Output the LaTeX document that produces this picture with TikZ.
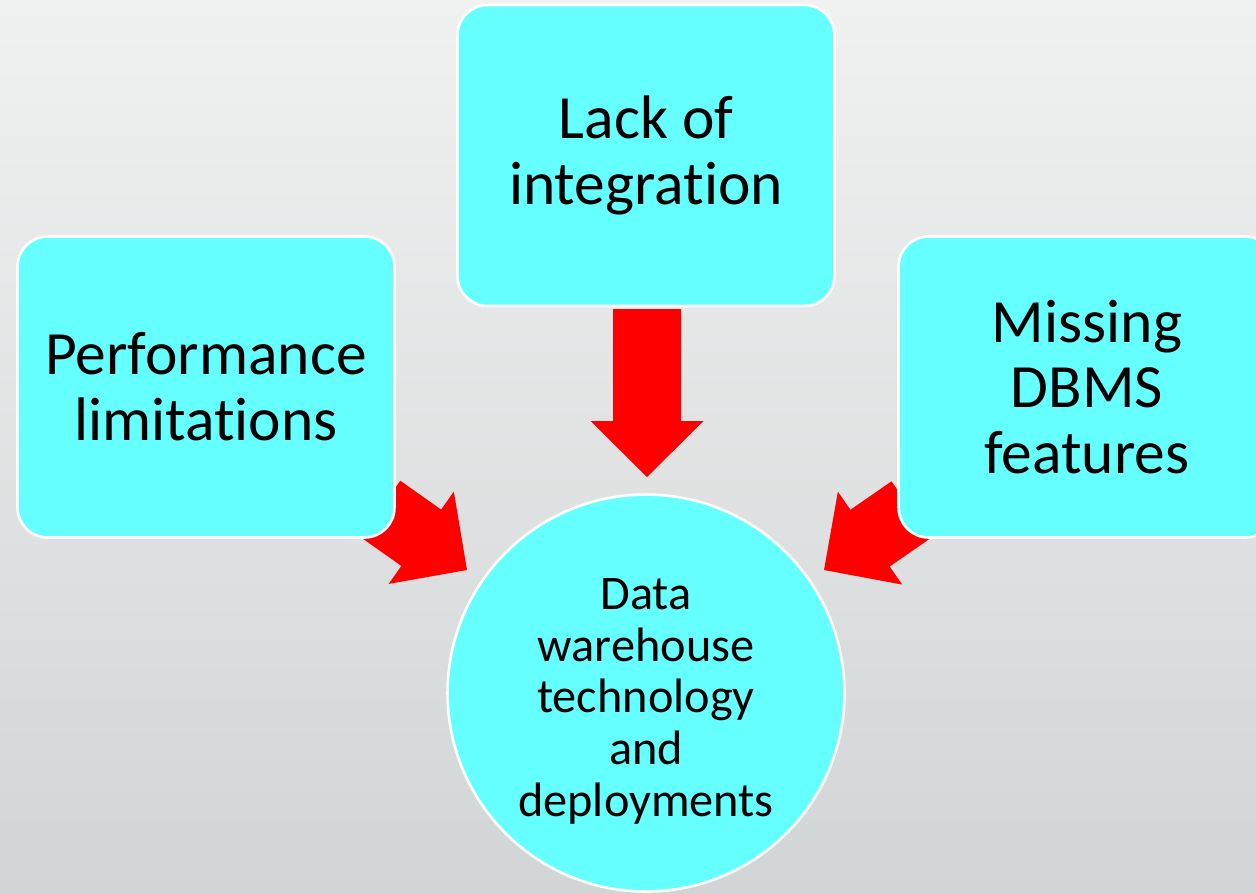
\documentclass[tikz,border=0pt]{standalone}
\usepackage{fontspec}
\setmainfont{Carlito}
\definecolor{boxcyan}{HTML}{66FFFF}
\definecolor{bgtop}{HTML}{F0F1F1}
\definecolor{bgbottom}{HTML}{D2D5D6}
\begin{document}
\begin{tikzpicture}[x=0.02cm,y=-0.02cm]
	\tikzstyle{reason}=[rectangle,rounded corners=0.6cm,draw=white,line width=1.5pt,fill=boxcyan,minimum width=7.54cm,minimum height=6.02cm,align=center,font=\fontsize{35}{37.5}\selectfont]
	\tikzstyle{result}=[circle,draw=white,line width=1.5pt,fill=boxcyan,minimum size=7.94cm,align=center,font=\fontsize{27.5}{29.5}\selectfont]
	\tikzstyle{bigarrow}=[fill=red]
	\useasboundingbox (0,0) rectangle (1256,893);
	\shade[top color=bgtop,bottom color=bgbottom] (0,0) rectangle (1256,893);
	\clip (0,0) rectangle (1256,893);
	% block arrows go under the boxes
	\coordinate (tipl) at (467,570);
	\coordinate (tipr) at (824,570);
	\coordinate (tipd) at (647,477);
	\fill[bigarrow,shift={(tipl)},rotate=-35.2] (0,0) -- (-56,-56.5) -- (-56,-34.5) -- (-106,-34.5) -- (-106,34.5) -- (-56,34.5) -- (-56,56.5) -- cycle;
	\fill[bigarrow,shift={(tipr)},rotate=-145.3] (0,0) -- (-56,-56.5) -- (-56,-34.5) -- (-106,-34.5) -- (-106,34.5) -- (-56,34.5) -- (-56,56.5) -- cycle;
	\fill[bigarrow,shift={(tipd)},rotate=-90] (0,0) -- (-56,-56.5) -- (-56,-34) -- (-168,-34) -- (-168,34) -- (-56,34) -- (-56,56.5) -- cycle;
	% boxes (\kern0pt keeps t and i apart)
	\node [reason] (lack) at (646,155.5) {Lack of\\integrat\kern0pt ion};
	\node [reason] (perf) at (206,387) {Performance\\limitat\kern0pt ions};
	\node [reason] (dbms) at (1087,387) {Missing\\DBMS\\features};
	\node [result] (dw) at (646,693) {\rule{0pt}{27pt}Data\\warehouse\\technology\\and\\deployments};
\end{tikzpicture}
\end{document}
